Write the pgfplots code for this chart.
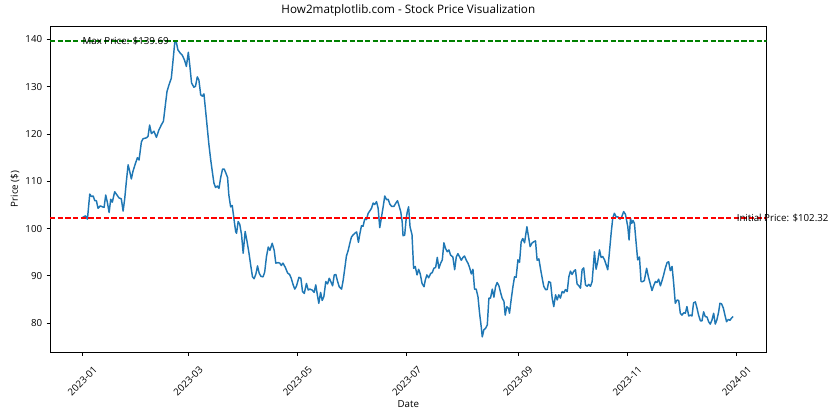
\documentclass[border=0pt]{standalone}
\usepackage{fontspec}
\setmainfont{Open Sans}
\usepackage{pgfplots}
\pgfplotsset{compat=1.18}
\definecolor{mplblue}{HTML}{1F77B4}
\definecolor{mplred}{HTML}{FF0000}
\definecolor{mplgreen}{HTML}{008000}

\begin{document}
\begin{tikzpicture}
\begin{axis}[
  scale only axis,
  width=737.2pt, height=335.6pt,
  xmin=-18.1, xmax=381.8,
  ymin=73.85, ymax=142.86,
  axis line style={black, line width=0.8pt},
  tick align=outside,
  tick pos=left,
  major tick length=3.5pt,
  tick style={black, line width=0.8pt},
  xtick={0,59,120,181,243,304,365},
  xticklabels={2023-01,2023-03,2023-05,2023-07,2023-09,2023-11,2024-01},
  ytick={80,90,100,110,120,130,140},
  /pgf/number format/assume math mode=true,
  ticklabel style={font=\fontsize{10}{12}\selectfont},
  xticklabel style={yshift=-26pt, rotate=45, anchor=center},
  yticklabel style={anchor=east, xshift=-1pt},
  xlabel={Date},
  ylabel={Price (\$)},
  label style={font=\fontsize{10}{12}\selectfont},
  xlabel style={at={(axis description cs:0.5,-0.1584)}, anchor=center},
  ylabel style={at={(axis description cs:-0.0488,0.5)}, anchor=center},
  title={How2matplotlib.com - Stock Price Visualization},
  title style={font=\fontsize{12}{14}\selectfont, at={(axis description cs:0.5,1.0306)}, anchor=center},
  clip mode=individual,
]
% daily price
\addplot[color=mplblue, line width=1.5pt, line join=round] coordinates {
(0,102.32) (1.7,102.7) (2.8,102.0) (4.1,107.3) (5.0,106.8) (6.0,106.9) (6.9,105.9) (7.8,105.9) (8.7,104.3) (10.0,104.8)
(11.2,104.6) (12.1,104.5) (13.0,107.1) (13.9,105.6) (14.9,103.4) (15.8,106.2) (16.7,105.6) (18.0,107.8) (19.3,107.1) (20.4,106.5)
(21.7,106.3) (22.7,103.7) (23.6,106.3) (24.5,109.9) (25.5,113.5) (26.4,112.1) (27.3,110.5) (28.2,112.1) (29.6,113.8) (30.7,115.0)
(31.6,114.5) (32.9,118.3) (33.8,119.0) (35.7,119.2) (36.6,119.5) (37.5,121.9) (38.5,120.1) (39.9,120.6) (41.3,119.3) (42.6,120.8)
(44.0,121.9) (45.2,122.7) (46.3,126.2) (47.2,129.0) (48.3,130.4) (49.6,131.8) (50.5,135.3) (51.6,139.69) (52.4,139.4) (53.3,137.8)
(54.6,137.1) (55.7,136.7) (57.0,135.6) (58.0,134.3) (59.1,137.3) (60.0,134.2) (60.9,130.8) (62.2,129.9) (63.1,130.1) (64.1,132.1)
(65.0,131.4) (66.0,128.3) (66.9,128.0) (67.8,128.5) (68.8,124.7) (69.7,121.2) (70.6,117.7) (71.6,114.5) (72.5,112.0) (73.4,109.6)
(74.3,108.7) (75.3,109.0) (76.2,108.5) (77.1,110.7) (78.2,112.6) (79.1,112.6) (80.0,111.8) (81.0,110.8) (81.7,107.1) (82.7,104.6)
(83.6,104.9) (84.5,102.2) (85.5,99.4) (86.0,99.0) (86.9,101.5) (87.8,100.9) (88.8,98.7) (89.7,94.8) (90.8,99.4) (91.8,97.4)
(92.9,94.9) (94.0,92.0) (94.9,89.8) (95.8,89.4) (96.8,90.4) (97.7,92.1) (98.6,90.6) (99.6,89.9) (100.8,89.8) (101.7,90.8)
(102.7,94.1) (103.7,96.1) (104.6,95.4) (105.9,96.9) (107.0,95.4) (107.9,92.7) (109.2,92.8) (110.1,92.7) (111.0,92.2) (111.9,92.7)
(113.2,91.8) (114.5,90.6) (115.6,90.3) (116.5,89.5) (117.6,88.1) (118.5,87.2) (119.4,87.8) (120.8,89.7) (121.9,89.5) (122.8,86.7)
(123.8,86.3) (125.0,88.4) (126.0,87.0) (126.9,87.2) (128.2,87.0) (129.3,86.5) (130.2,88.1) (131.2,85.7) (131.9,84.2) (132.9,86.5)
(133.8,84.8) (134.7,85.6) (135.8,88.8) (136.8,88.3) (137.7,89.5) (138.6,88.8) (139.6,87.9) (140.5,90.2) (141.4,90.3) (142.4,88.8)
(143.3,87.7) (144.6,87.2) (145.5,89.1) (146.4,91.6) (147.3,94.2) (148.3,95.4) (149.2,96.9) (150.1,98.2) (151.1,98.7) (152.3,99.1)
(153.0,99.3) (154.0,97.1) (154.9,99.1) (155.7,100.6) (156.6,100.5) (157.5,102.0) (158.5,101.9) (159.4,103.2) (160.3,103.7) (161.3,104.3)
(162.2,105.4) (163.1,105.1) (164.1,105.7) (165.0,104.3) (165.9,100.2) (166.9,102.5) (167.8,104.6) (168.7,106.9) (169.7,106.1) (170.6,106.2)
(171.5,105.2) (172.5,104.7) (173.8,104.7) (174.9,105.4) (175.8,105.9) (176.7,104.8) (177.6,103.6) (178.4,101.5) (178.9,98.5) (179.8,98.6)
(180.7,102.3) (181.3,103.6) (182.0,104.6) (182.8,100.4) (183.9,98.7) (184.8,91.6) (185.7,92.0) (186.7,90.2) (187.6,91.4) (188.5,90.4)
(189.5,88.4) (190.6,87.7) (191.3,89.1) (192.2,90.2) (193.2,89.6) (194.3,90.5) (195.2,90.7) (196.1,91.6) (197.1,91.8) (198.0,93.9)
(198.9,91.6) (199.9,92.7) (200.8,93.4) (201.7,97.0) (202.6,95.8) (203.6,95.1) (204.5,95.5) (205.4,94.4) (206.7,94.0) (207.7,91.3)
(208.6,94.0) (209.5,94.7) (210.5,94.0) (211.4,93.3) (212.3,93.9) (213.2,94.2) (214.2,93.3) (215.1,92.7) (216.0,91.8) (217.0,90.4)
(217.9,91.4) (218.8,87.2) (219.7,87.2) (220.7,85.6) (221.6,82.1) (222.5,79.3) (223.1,77.1) (224.0,78.6) (224.9,78.9) (225.9,79.6)
(226.8,85.3) (227.7,85.3) (228.7,87.2) (229.6,85.5) (230.5,87.7) (231.4,88.6) (232.4,87.9) (233.3,86.5) (234.2,85.3) (235.2,84.6)
(235.9,81.7) (236.8,83.5) (237.8,83.1) (238.3,82.1) (239.2,84.9) (240.2,87.7) (241.1,89.8) (242.0,89.7) (243.0,93.4) (243.9,92.9)
(244.8,97.2) (245.7,97.9) (246.7,97.0) (248.0,100.4) (248.9,98.3) (249.8,96.2) (250.8,96.9) (251.7,97.2) (252.8,97.4) (253.7,93.3)
(254.7,93.6) (255.6,91.5) (256.5,89.6) (257.4,87.8) (258.4,87.1) (259.3,87.1) (260.2,88.8) (261.2,88.6) (262.1,85.3) (263.0,83.5)
(264.0,86.0) (264.9,84.9) (265.8,86.0) (266.7,85.3) (267.7,86.7) (268.6,86.4) (269.5,87.1) (270.5,86.7) (271.4,89.8) (272.3,91.0)
(273.2,90.3) (274.2,91.0) (275.1,91.3) (276.0,88.3) (277.0,87.9) (277.9,87.4) (278.8,91.3) (279.7,91.7) (280.7,88.1) (281.6,87.8)
(282.5,88.2) (283.5,87.8) (284.4,88.8) (285.7,95.1) (286.6,91.4) (287.5,93.0) (288.5,95.5) (289.4,93.9) (290.3,94.1) (291.3,93.4)
(292.2,92.4) (293.1,91.3) (294.0,94.8) (295.0,99.0) (295.9,102.2) (296.8,103.25) (297.8,102.5) (298.7,102.5) (300.0,102.0) (300.9,102.5)
(302.0,103.6) (303.0,103.0) (304.3,100.4) (305.0,97.6) (305.8,102.2) (306.5,101.1) (307.2,101.7) (308.0,101.1) (308.9,97.2) (309.8,93.4)
(310.8,94.0) (311.7,88.8) (312.6,88.8) (313.5,89.0) (314.8,91.6) (315.8,89.8) (316.9,88.2) (317.8,86.9) (318.7,87.9) (319.7,88.8)
(320.6,88.6) (321.5,89.3) (322.5,87.9) (323.4,89.0) (324.3,90.2) (325.2,91.6) (326.2,92.8) (327.1,93.0) (328.0,91.1) (329.0,92.0)
(329.9,88.4) (330.8,84.2) (331.8,84.9) (332.7,84.8) (333.6,82.1) (334.5,81.7) (335.5,82.2) (336.4,82.1) (337.3,83.5) (338.3,81.5)
(339.2,81.7) (340.1,81.5) (341.0,84.3) (342.0,84.5) (342.9,83.2) (343.8,81.7) (344.8,80.5) (345.7,80.5) (346.6,82.4) (347.5,81.4)
(348.5,81.3) (349.4,80.3) (350.3,79.8) (351.3,80.7) (352.2,82.1) (353.1,79.8) (354.0,80.7) (355.0,82.4) (355.7,84.2) (356.6,84.1)
(357.6,83.2) (358.5,81.7) (359.4,80.3) (360.4,80.8) (361.3,80.6) (362.2,81.1) (363.1,81.4)
};
% initial and max price reference lines
\addplot[draw=mplred, line width=2pt, dash pattern=on 5.5pt off 2.4pt] coordinates {(-18.1,102.32) (381.8,102.32)};
\addplot[draw=mplgreen, line width=1.5pt, dash pattern=on 5.5pt off 2.4pt] coordinates {(-18.1,139.69) (381.8,139.69)};
\node[anchor=west, inner sep=0pt, font=\fontsize{10}{12}\selectfont] at (axis cs:0,139.69) {Max Price: \$139.69};
\node[anchor=west, inner sep=0pt, font=\fontsize{10}{12}\selectfont] at (axis cs:365,102.32) {Initial Price: \$102.32};
\end{axis}
\pgfresetboundingbox
\useasboundingbox ([xshift=-51.4pt,yshift=-69.6pt]current axis.south west) rectangle ([xshift=75.4pt,yshift=26.7pt]current axis.north east);
\end{tikzpicture}
\end{document}
